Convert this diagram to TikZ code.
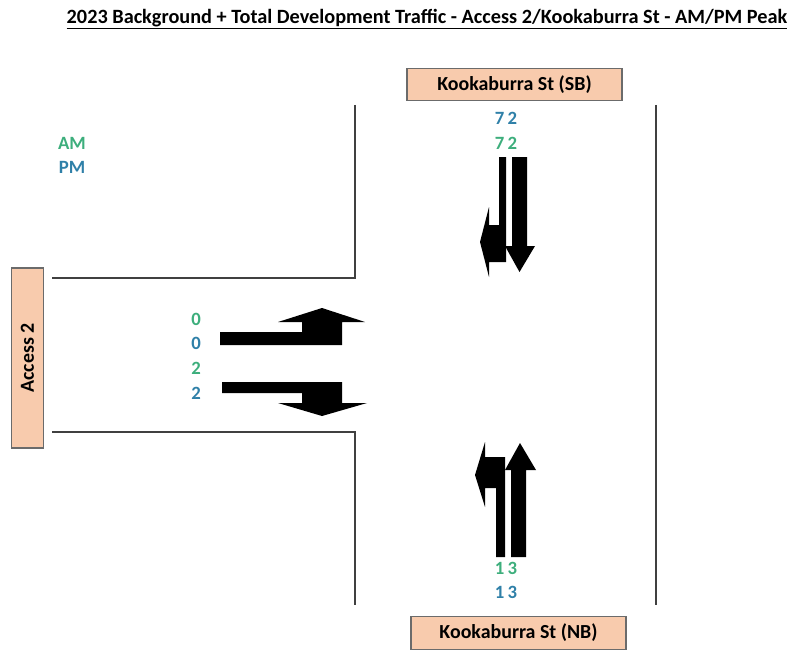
\documentclass[tikz,border=0pt]{standalone}
\usepackage{fontspec}
\setmainfont{Carlito}
\usetikzlibrary{arrows.meta,positioning}
\definecolor{amgreen}{HTML}{3DAE7C}
\definecolor{pmblue}{HTML}{2F80A8}
\definecolor{streetfill}{HTML}{F8CBAD}
\definecolor{streetedge}{HTML}{6B6B6B}
\definecolor{kerbgrey}{HTML}{404040}

\begin{document}
\begin{tikzpicture}[
x=0.03cm,y=-0.03cm,
every node/.style={font=\bfseries},
street/.style={draw=streetedge,line width=1pt,fill=streetfill,inner sep=0pt,
minimum width=6.45cm,minimum height=0.98cm,font=\bfseries\fontsize{17}{19}\selectfont},
amlbl/.style={text=amgreen,inner sep=0pt,font=\bfseries\fontsize{16}{18}\selectfont},
pmlbl/.style={amlbl,text=pmblue},
kerb/.style={draw=kerbgrey,line width=1.1pt},
move/.style={fill=black}
]
\useasboundingbox (0,0) rectangle (795,649);

\node (title) at (427,19) {\fontsize{17.3}{20}\selectfont
\underline{2023 Background + Total Development Traffic - Access 2/Kookaburra St - AM/PM Peak}};

% street name boxes
\node[street] (sb) at (514.5,84.5) {Kookaburra St (SB)};
\node[street] (nb) at (518.5,633) {Kookaburra St (NB)};
\node[street,minimum width=5.4cm,rotate=90] (acc) at (27.5,358) {Access 2};

% legend
\node[amlbl] (am) at (72,143) {AM};
\node[pmlbl] (pm) at (72,167) {PM};

% kerb lines
\draw[kerb] (355,105) -- (355,278) -- (52,278);
\draw[kerb] (52,432) -- (355,432) -- (355,605);
\draw[kerb] (656,105) -- (656,605);

% southbound approach
\node[pmlbl] (sbpm) at (506,118) {7\,2};
\node[amlbl] (sbam) at (506,143) {7\,2};
\fill[move] (512,157) -- (527,157) -- (527,246) -- (535,246) -- (519.5,272)
  -- (505,246) -- (512,246) -- cycle;
\fill[move] (499,157) -- (506,157) -- (506,262) -- (489,262) -- (489,277)
  -- (480,242) -- (489,207) -- (489,225) -- (499,225) -- cycle;

% northbound approach
\node[amlbl] (nbam) at (506,568) {1\,3};
\node[pmlbl] (nbpm) at (506,592) {1\,3};
\fill[move] (511,557) -- (526,557) -- (526,470) -- (536,470) -- (520,443)
  -- (505,470) -- (511,470) -- cycle;
\fill[move] (496,557) -- (505,557) -- (505,457) -- (485,457) -- (485,442)
  -- (475,475) -- (485,507) -- (485,488) -- (496,488) -- cycle;

% Access 2 approach
\node[amlbl] (acclam) at (196,319) {0};
\node[pmlbl] (acclpm) at (196,343) {0};
\node[amlbl] (accram) at (196,368) {2};
\node[pmlbl] (accrpm) at (196,393) {2};
\fill[move] (220,332) -- (302,332) -- (302,322) -- (278,322) -- (322,308)
  -- (365,322) -- (342,322) -- (342,345) -- (220,345) -- cycle;
\fill[move] (222,382) -- (342,382) -- (342,403) -- (367,403) -- (322,416)
  -- (278,403) -- (302,403) -- (302,393) -- (222,393) -- cycle;
\end{tikzpicture}
\end{document}
